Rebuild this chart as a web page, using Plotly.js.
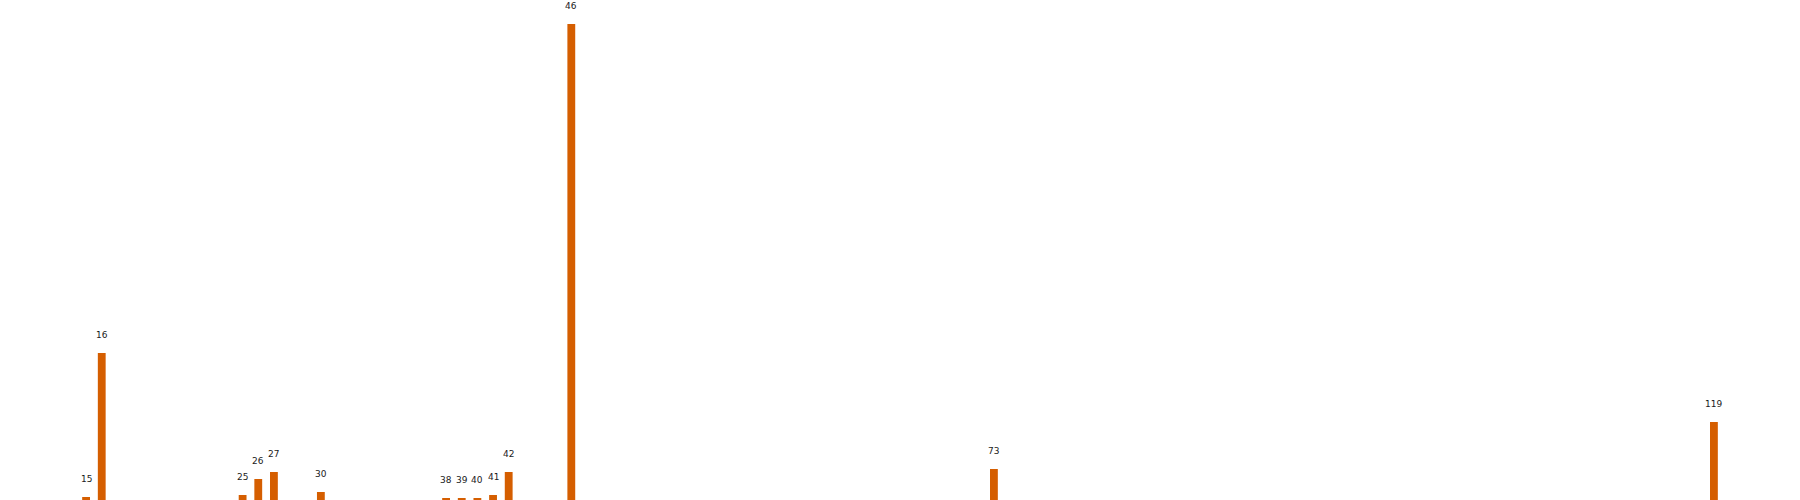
<!DOCTYPE html>
<html>
<head>
<meta charset="utf-8">
<script src="https://cdn.plot.ly/plotly-3.0.1.min.js"></script>
<style>
  html, body { margin: 0; padding: 0; background: #ffffff; }
  #chart { width: 1800px; height: 500px; }
</style>
</head>
<body>
<div id="chart"></div>
<script>
// Category positions (numeric x) and bar values
const positions = [15, 16, 25, 26, 27, 30, 38, 39, 40, 41, 42, 46, 73, 119];
const values    = [3, 147, 5, 21, 28, 8, 2, 2, 2, 5, 28, 476, 31, 78];
const labels    = ["15", "16", "25", "26", "27", "30", "38", "39", "40", "41", "42", "46", "73", "119"];

const barColor = "#d55e00";

const trace = {
  type: "bar",
  x: positions,
  y: values,
  width: 0.5,
  marker: { color: barColor, line: { width: 0 } },
  hoverinfo: "x+y",
  showlegend: false
};

const annotations = positions.map((p, i) => ({
  x: p,
  y: values[i],
  xref: "x",
  yref: "y",
  text: labels[i],
  showarrow: false,
  xanchor: "center",
  yanchor: "middle",
  yshift: 18,
  font: { family: "DejaVu Sans, sans-serif", size: 9, color: "#1a1a1a" }
}));

const layout = {
  width: 1800,
  height: 500,
  margin: { l: 0, r: 0, t: 0, b: 0, pad: 0 },
  paper_bgcolor: "#ffffff",
  plot_bgcolor: "#ffffff",
  xaxis: { range: [9.5, 124.5], visible: false, fixedrange: true },
  yaxis: { range: [0, 500], visible: false, fixedrange: true },
  showlegend: false,
  annotations: annotations
};

Plotly.newPlot("chart", [trace], layout, { displayModeBar: false, staticPlot: true });
</script>
</body>
</html>
